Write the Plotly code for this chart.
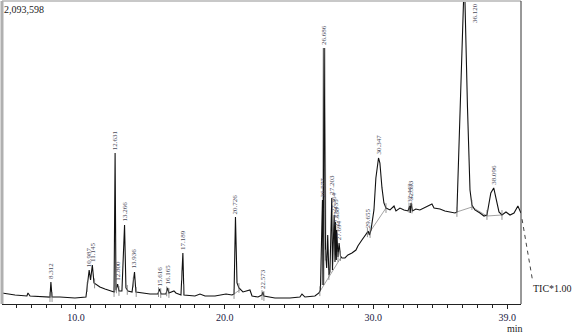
import numpy as np
import plotly.graph_objects as go

# ---- data: retention time (min) and TIC intensity ----
time_min = [5.02, 5.90, 6.70, 6.77, 6.91, 7.92, 8.25, 8.312, 8.39, 8.92, 9.93,
            10.67, 10.887, 10.98, 11.10, 11.21, 11.41, 11.61, 11.95, 12.29, 12.56,
            12.631, 12.69, 12.80, 12.89, 13.09, 13.266, 13.36, 13.50, 13.77, 13.936,
            14.03, 14.64, 14.98, 15.51, 15.616, 15.72, 16.05, 16.165, 16.25, 16.59,
            16.72, 17.06, 17.189, 17.26, 18.00, 18.34, 18.68, 19.35, 20.09, 20.49,
            20.63, 20.726, 20.83, 20.96, 21.23, 21.70, 21.84, 22.24, 22.51, 22.573,
            22.64, 23.38, 24.39, 25.06, 25.20, 25.40, 26.07, 26.34, 26.44, 26.577,
            26.62, 26.686, 26.78, 26.86, 26.93, 27.01, 27.08, 27.203, 27.25, 27.364,
            27.42, 27.455, 27.51, 27.538, 27.62, 27.694, 27.79, 27.89, 28.09, 28.29,
            28.56, 28.83, 28.96, 29.23, 29.43, 29.655, 29.74, 29.84, 30.04, 30.17,
            30.347, 30.44, 30.58, 30.71, 30.85, 31.12, 31.39, 31.52, 31.79, 32.06,
            32.33, 32.44, 32.48, 32.533, 32.63, 32.86, 33.13, 33.47, 33.67, 33.94,
            34.08, 34.48, 34.81, 35.15, 35.49, 35.62, 35.85, 36.12, 36.33, 36.50,
            36.63, 36.83, 37.17, 37.44, 37.64, 37.77, 37.90, 38.096, 38.25, 38.45,
            38.65, 38.92, 39.19, 39.46, 39.72, 39.93]
intensity = [76000, 62000, 55000, 76000, 55000, 48000, 48000, 152000, 48000, 48000, 41000,
             48000, 235000, 166000, 269000, 145000, 131000, 117000, 104000, 90000, 83000,
             1043000, 97000, 138000, 90000, 90000, 546000, 111000, 90000, 83000, 221000,
             83000, 76000, 69000, 69000, 104000, 69000, 69000, 111000, 76000, 90000,
             76000, 62000, 352000, 62000, 55000, 69000, 55000, 55000, 69000, 62000,
             69000, 601000, 145000, 111000, 83000, 97000, 55000, 48000, 62000, 83000,
             55000, 41000, 41000, 48000, 69000, 48000, 55000, 76000, 97000, 719000,
             131000, 1769000, 373000, 249000, 477000, 200000, 221000, 732000, 235000, 615000,
             290000, 567000, 304000, 511000, 325000, 421000, 332000, 318000, 318000, 339000,
             352000, 373000, 401000, 442000, 470000, 504000, 477000, 511000, 650000, 871000,
             1009000, 974000, 802000, 698000, 663000, 650000, 677000, 643000, 663000, 650000,
             643000, 677000, 629000, 698000, 643000, 656000, 650000, 670000, 677000, 691000,
             663000, 656000, 643000, 636000, 629000, 636000, 1361000, 2273000, 1361000, 788000,
             684000, 650000, 629000, 608000, 615000, 684000, 767000, 802000, 732000, 636000,
             615000, 636000, 615000, 629000, 677000, 629000]

peak_times = [8.312, 10.887, 11.10, 12.631, 12.800, 13.266, 13.936, 15.616, 16.165,
              17.189, 20.726, 22.573, 26.577, 26.686, 27.203, 27.364, 27.455, 27.538,
              27.694, 29.655, 30.347, 32.44, 32.533, 38.096]
peak_labels = ["8.312", "10.987", "11.145", "12.631", "12.800", "13.266", "13.936", "15.616",
               "16.165", "17.189", "20.726", "22.573", "26.577", "26.686", "27.203", "27.364",
               "27.455", "27.538", "27.694", "29.655", "30.347", "32.443", "32.533", "38.096"]

# integration baselines (time, intensity) segments
base_t = [12.55, 12.75, None, 20.63, 21.10, None, 26.34, 27.80, None, 29.65, 30.85, None,
          35.62, 36.63, 37.64, 38.65]
base_i = [83000, 97000, None, 69000, 104000, None, 76000, 318000, None, 480000, 663000, None,
          636000, 670000, 608000, 615000]

# peak start / end marks
bound_t = [8.25, 8.39, 10.75, 11.25, 12.56, 12.72, 12.89, 13.45, 13.85, 14.05, 15.55, 15.70,
           16.10, 16.25, 17.12, 17.25, 20.63, 20.96, 22.51, 22.64, 26.40, 26.80, 27.01,
           27.62, 27.79, 29.60, 29.78, 30.85, 32.40, 32.60, 35.62, 36.63, 37.64, 38.65]

Y_MAX = 2093598
X_RANGE = [5.024, 39.93]

fig = go.Figure()

# gray band on the tallest peak
fig.add_trace(go.Scatter(x=[26.62, 26.686, 26.75], y=[131000, 1769000, 300000], mode="lines",
                         line=dict(color="#b8b8b8", width=3), hoverinfo="skip"))
# integration baselines
fig.add_trace(go.Scatter(x=base_t, y=base_i, mode="lines", connectgaps=False,
                         line=dict(color="#8a8a8a", width=0.8), hoverinfo="skip"))
# chromatogram
fig.add_trace(go.Scatter(x=time_min, y=intensity, mode="lines",
                         line=dict(color="#111111", width=1.1), hoverinfo="skip"))
# start/end marks
bound_i = np.interp(bound_t, time_min, intensity)
fig.add_trace(go.Scatter(x=bound_t, y=bound_i, mode="markers",
                         marker=dict(symbol="line-ns-open", size=7, color="#777777",
                                     line=dict(width=0.8, color="#777777")),
                         hoverinfo="skip"))

# peak labels
peak_i = np.interp(peak_times, time_min, intensity)
for t, i, lab in zip(peak_times, peak_i, peak_labels):
    fig.add_annotation(x=t, y=i, text=lab, textangle=-90, showarrow=False,
                       xanchor="center", yanchor="bottom", yshift=1,
                       font=dict(family="Liberation Serif", size=7, color="#4a4a5a"))
fig.add_annotation(x=36.63, y=1, yref="paper", text="36.120", textangle=-90, showarrow=False,
                   xanchor="center", yanchor="top", xshift=3,
                   font=dict(family="Liberation Serif", size=7, color="#4a4a5a"))

# header value, unit, trace name
fig.add_annotation(x=0, y=1, xref="paper", yref="paper", text="2,093,598", showarrow=False,
                   xanchor="left", yanchor="top", yshift=-1,
                   font=dict(family="Liberation Serif", size=10, color="#222222"))
fig.add_annotation(x=39.0, y=0, yref="paper", text="min", showarrow=False,
                   xanchor="left", yanchor="top", xshift=-2, yshift=-17,
                   font=dict(family="Liberation Serif", size=10, color="#222222"))
fig.add_annotation(x=1, y=0, xref="paper", yref="paper", text="TIC*1.00", showarrow=False,
                   xanchor="left", yanchor="middle", xshift=10, yshift=16,
                   font=dict(family="Liberation Serif", size=10, color="#222222"))

# frame
fig.add_shape(type="line", xref="paper", yref="paper", x0=0, x1=1, y0=1, y1=1,
              line=dict(color="#c8c8c8", width=2))
fig.add_shape(type="line", xref="paper", yref="paper", x0=0, x1=0, y0=0, y1=1,
              line=dict(color="#b0b0b0", width=3))
fig.add_shape(type="line", xref="paper", yref="paper", x0=1, x1=1, y0=0, y1=1,
              line=dict(color="#333333", width=1))
# dashed leader to trace name
fig.add_shape(type="line", xref="paper", yref="paper", x0=1.002, x1=1.022, y0=0.28, y1=0.08,
              line=dict(color="#444444", width=1, dash="4px,4px"))

fig.update_layout(
    width=578, height=334,
    margin=dict(l=2, r=57, t=1, b=30),
    paper_bgcolor="white", plot_bgcolor="white",
    showlegend=False,
    xaxis=dict(range=X_RANGE, showgrid=False, zeroline=False,
               showline=True, linecolor="#222222", linewidth=1,
               ticks="outside", ticklen=4, tickcolor="#222222",
               tickvals=[10, 20, 30, 39], ticktext=["10.0", "20.0", "30.0", "39.0"],
               tickfont=dict(family="Liberation Serif", size=10, color="#222244"),
               minor=dict(dtick=1, tick0=0, ticks="outside", ticklen=3, tickcolor="#222222",
                          showgrid=False)),
    yaxis=dict(range=[0, Y_MAX], showgrid=False, zeroline=False, showticklabels=False,
               showline=False, ticks=""),
)

fig.write_html("out.html")
